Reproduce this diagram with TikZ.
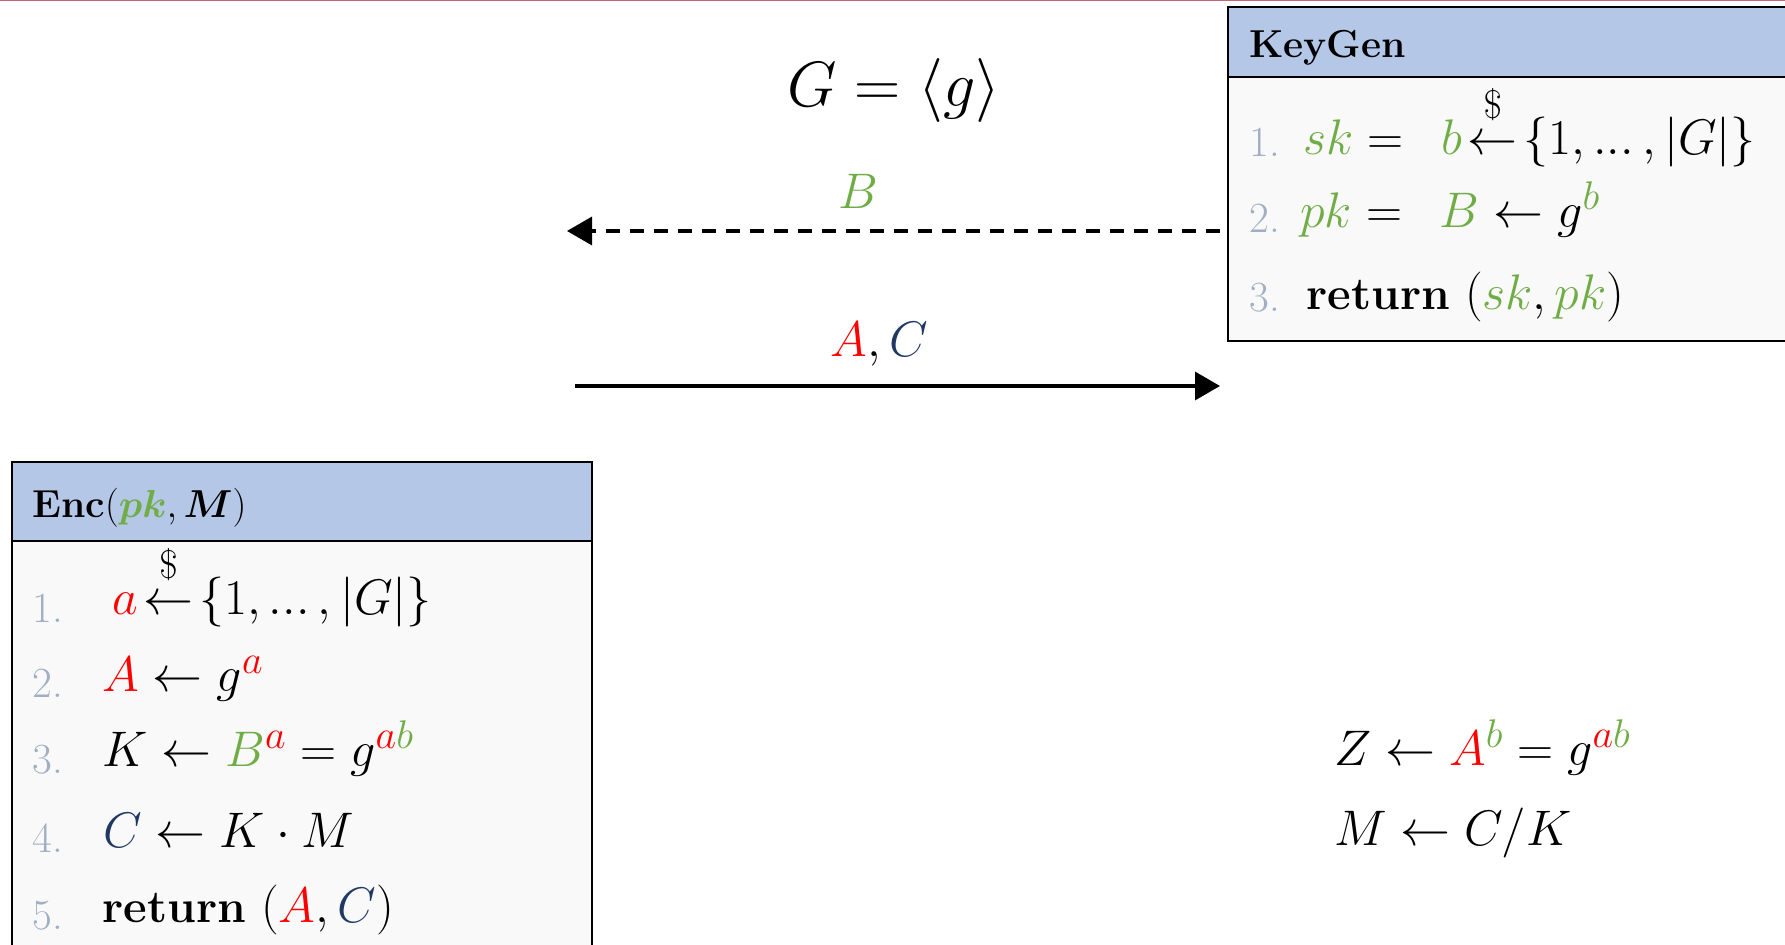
\RequirePackage{fix-cm}
\documentclass[tikz,border=0pt]{standalone}
\usepackage{amsmath}
\usepackage{bm}
\usetikzlibrary{arrows.meta}
\DeclareMathSizes{25}{25}{20}{15}
\DeclareMathSizes{32}{32}{24}{18}
\DeclareMathSizes{19.5}{19.5}{15}{11}
\definecolor{kgreen}{RGB}{112,173,71}
\definecolor{kred}{RGB}{255,0,0}
\definecolor{knavy}{RGB}{31,56,100}
\definecolor{khead}{RGB}{180,199,231}
\definecolor{kbody}{RGB}{249,249,249}
\definecolor{knum}{RGB}{160,175,196}
\definecolor{ktop}{RGB}{192,104,122}
\newcommand{\kdots}{{\ldotp\!\ldotp\!\ldotp}}
\newcommand{\krand}{{\mkern2mu\overset{\raisebox{4pt}{$\scriptstyle\$$}}{\leftarrow}\mkern2mu}}
\newcommand{\kret}{{\fontsize{23}{28}\selectfont\textbf{return}}}
\begin{document}
\begin{tikzpicture}[x=0.5pt,y=-0.5pt,
  boxhead/.style={fill=khead,draw=black,line width=1pt,anchor=north west,inner sep=0pt},
  boxbody/.style={fill=kbody,draw=black,line width=1pt,anchor=north west,inner sep=0pt},
  ln/.style={anchor=base west,inner sep=0pt,font=\fontsize{21.5}{24}\selectfont,text=knum},
  mth/.style={anchor=base west,inner sep=0pt,font=\fontsize{25}{30}\selectfont},
  hd/.style={anchor=base west,inner sep=0pt,font=\fontsize{19.5}{23}\selectfont\bfseries},
  msg/.style={line width=1.7pt,-{Triangle[length=12.5pt,width=14pt]}},
]
\useasboundingbox (0,0) rectangle (1785,945);
\draw[ktop,line width=1pt] (0,0.5) -- (1785,0.5);

% KeyGen box
\node[boxbody,minimum width=286.5pt,minimum height=132pt] (kgbody) at (1227,76) {};
\node[boxhead,minimum width=286.5pt,minimum height=35pt] (kghead) at (1227,6) {};
\node[hd] (kgt) at (1249,58) {KeyGen};
\node[ln] (k1n) at (1249,157) {1.};
\node[mth] (k1) at (1303,155) {${\color{kgreen}sk} = \hspace{12pt}{\color{kgreen}b}\krand\{1,\kdots\,,|G|\}$};
\node[ln] (k2n) at (1249,233) {2.};
\node[mth] (k2) at (1300,228) {${\color{kgreen}pk} = \hspace{12pt}{\color{kgreen}B}\leftarrow g^{\color{kgreen}b}$};
\node[ln] (k3n) at (1249,312) {3.};
\node[mth] (k3) at (1306,310) {\kret{} $({\color{kgreen}sk},{\color{kgreen}pk})$};

% Enc box
\node[boxbody,minimum width=290pt,minimum height=210pt] (encbody) at (11,540) {};
\node[boxhead,minimum width=290pt,minimum height=39.5pt] (enchead) at (11,461) {};
\node[hd] (enct) at (32,518) {Enc$(\bm{{\color{kgreen}pk}},\bm{M})$};
\node[ln] (e1n) at (32,623) {1.};
\node[mth] (e1) at (112,615) {${\color{kred}a}\krand\{1,\kdots\,,|G|\}$};
\node[ln] (e2n) at (32,698) {2.};
\node[mth] (e2) at (102,692) {${\color{kred}A}\leftarrow g^{\color{kred}a}$};
\node[ln] (e3n) at (32,774) {3.};
\node[mth] (e3) at (102,767) {$K\leftarrow {\color{kgreen}B}^{\color{kred}a} = g^{{\color{kred}a}{\color{kgreen}b}}$};
\node[ln] (e4n) at (32,853) {4.};
\node[mth] (e4) at (103,848) {${\color{knavy}C}\leftarrow K\cdot M$};
\node[ln] (e5n) at (32,930) {5.};
\node[mth] (e5) at (102,923) {\kret{} $({\color{kred}A},{\color{knavy}C})$};

% Decryption
\node[mth] (zl) at (1334,766) {$Z\leftarrow {\color{kred}A}^{\color{kgreen}b} = g^{{\color{kred}a}{\color{kgreen}b}}$};
\node[mth] (ml) at (1334,846) {$M\leftarrow C/K$};

% Group
\node[anchor=base,inner sep=0pt,font=\fontsize{32}{38}\selectfont] (grp) at (894,107) {$G=\langle g\rangle$};

% Messages
\node[mth,anchor=base] (blab) at (858,209) {$\color{kgreen}B$};
\node[mth,anchor=base] (aclab) at (879,357) {${\color{kred}A},{\color{knavy}C}$};
\coordinate (dR) at (1220,231);
\coordinate (dL) at (567,231);
\coordinate (sL) at (575,386);
\coordinate (sR) at (1220,386);
\draw[msg,dash pattern=on 7pt off 5pt] (dR) -- (dL);
\draw[msg] (sL) -- (sR);
\end{tikzpicture}
\end{document}
